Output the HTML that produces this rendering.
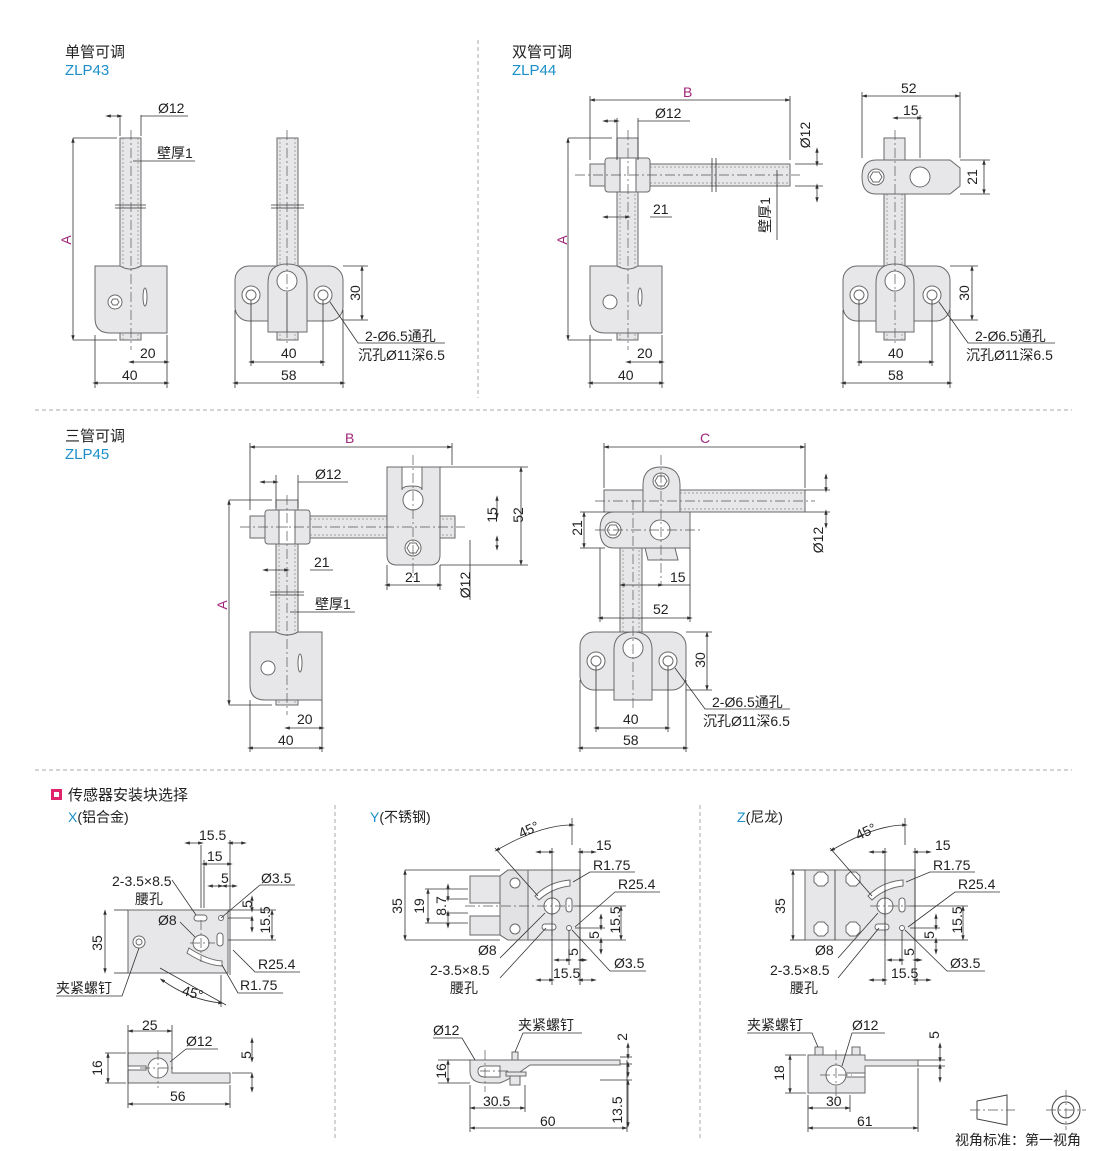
<!DOCTYPE html>
<html><head><meta charset="utf-8"><style>
body{margin:0;background:#fff}
svg{display:block;font-family:"Liberation Sans","Noto Sans CJK SC",sans-serif}
.p{fill:#e7e7e9;stroke:#6a6a6a;stroke-width:1}
.w{fill:#fff;stroke:#6a6a6a;stroke-width:1}
.d{stroke:#333;stroke-width:.8;fill:none}
.dm{stroke:#333;stroke-width:.8;fill:none;marker-start:url(#a);marker-end:url(#a)}
.c{stroke:#555;stroke-width:.7;stroke-dasharray:10 3 2 3;fill:none}
.h{stroke:#888;stroke-width:.7;stroke-dasharray:2 2;fill:none}
.s{stroke:#aaa;stroke-width:1;stroke-dasharray:4 3}
text{font-size:14px;fill:#222}
.r{text-anchor:middle}
.t{font-size:15px}
.b{fill:#1a8fc9;font-size:15px}
.m{fill:#a0267a}
</style></head><body>
<svg width="1110" height="1151" viewBox="0 0 1110 1151">
<defs><marker id="a" viewBox="0 0 10 10" refX="5" refY="5" markerWidth="7" markerHeight="7" orient="auto-start-reverse"><path d="M0,2 L10,5 L0,8 z" fill="#333"/></marker></defs>

<line class="s" x1="478" y1="40" x2="478" y2="398"/>
<line class="s" x1="35" y1="410" x2="1072" y2="410"/>
<line class="s" x1="35" y1="770" x2="1072" y2="770"/>
<line class="s" x1="335" y1="805" x2="335" y2="1140"/>
<line class="s" x1="700" y1="805" x2="700" y2="1140"/>

<text class="t" x="65" y="57">单管可调</text><text class="b" x="65" y="75">ZLP43</text>
<text class="t" x="512" y="57">双管可调</text><text class="b" x="512" y="75">ZLP44</text>
<text class="t" x="65" y="441">三管可调</text><text class="b" x="65" y="459">ZLP45</text>
<rect x="51" y="789" width="11" height="11" fill="#e0246b"/><rect x="54" y="792" width="5" height="5" fill="#fff"/>
<text class="t" x="68" y="800">传感器安装块选择</text>
<text x="68" y="822"><tspan fill="#1a8fc9">X</tspan>(铝合金)</text>
<text x="370" y="822"><tspan fill="#1a8fc9">Y</tspan>(不锈钢)</text>
<text x="737" y="822"><tspan fill="#1a8fc9">Z</tspan>(尼龙)</text>

<!-- ZLP43 left -->
<rect class="p" x="120" y="138" width="21" height="202"/>
<line class="h" x1="123" y1="138" x2="123" y2="340"/><line class="h" x1="138" y1="138" x2="138" y2="340"/>
<line class="d" x1="115" y1="205" x2="146" y2="205"/><line class="d" x1="115" y1="208" x2="146" y2="208"/>
<path class="p" d="M95,266 H120 Q130,272 141,266 H167 V333 H110 Q95,333 95,318 Z"/>
<circle class="w" cx="115" cy="302" r="7"/><path d="M111,302 l2,-3 h4 l2,3 l-2,3 h-4z" class="w"/>
<ellipse class="w" cx="145" cy="297" rx="2" ry="9"/>
<line class="c" x1="131" y1="130" x2="131" y2="350"/>
<line class="d" x1="73" y1="138" x2="117" y2="138"/><line class="d" x1="73" y1="340" x2="117" y2="340"/>
<line class="dm" x1="73" y1="140" x2="73" y2="338"/>
<text class="m r" x="71" y="240" transform="rotate(-90 71 240)">A</text>
<line class="d" x1="120" y1="115" x2="120" y2="136"/><line class="d" x1="141" y1="115" x2="141" y2="136"/>
<line class="dm" x1="108" y1="116" x2="120" y2="116"/><line class="d" x1="141" y1="116" x2="188" y2="116"/>
<text x="158" y="113">Ø12</text>
<line class="d" x1="133" y1="161" x2="195" y2="161"/><text x="157" y="158">壁厚1</text>
<line class="d" x1="95" y1="335" x2="95" y2="388"/><line class="d" x1="167" y1="335" x2="167" y2="388"/>
<line class="dm" x1="131" y1="362" x2="167" y2="362"/><text x="140" y="358">20</text>
<line class="dm" x1="95" y1="383" x2="167" y2="383"/><text x="122" y="380">40</text>

<!-- ZLP43 front -->
<rect class="p" x="277" y="138" width="21" height="202"/>
<line class="h" x1="280" y1="138" x2="280" y2="340"/><line class="h" x1="295" y1="138" x2="295" y2="340"/>
<line class="d" x1="271" y1="205" x2="304" y2="205"/><line class="d" x1="271" y1="208" x2="304" y2="208"/>
<rect class="p" x="235" y="266" width="108" height="55" rx="14"/>
<path class="p" d="M268,332 V283 Q268,264 287,264 Q307,264 307,283 V332 Z"/>
<circle class="w" cx="287" cy="281" r="10"/><line class="d" x1="287" y1="292" x2="287" y2="332"/>
<circle class="w" cx="251" cy="295" r="9"/><circle class="w" cx="251" cy="295" r="5"/>
<circle class="w" cx="323" cy="295" r="9"/><circle class="w" cx="323" cy="295" r="5"/>
<line class="c" x1="287" y1="130" x2="287" y2="345"/>
<line class="d" x1="343" y1="266" x2="368" y2="266"/><line class="d" x1="343" y1="320" x2="368" y2="320"/>
<line class="dm" x1="362" y1="268" x2="362" y2="318"/><text class="r" x="360" y="293" transform="rotate(-90 360 293)">30</text>
<line class="d" x1="251" y1="300" x2="251" y2="366"/><line class="d" x1="323" y1="300" x2="323" y2="366"/>
<line class="dm" x1="251" y1="362" x2="323" y2="362"/><text x="281" y="358">40</text>
<line class="d" x1="235" y1="310" x2="235" y2="388"/><line class="d" x1="343" y1="310" x2="343" y2="388"/>
<line class="dm" x1="235" y1="383" x2="343" y2="383"/><text x="281" y="380">58</text>
<path class="d" d="M330,302 L358,343 H445"/>
<text x="365" y="341">2-Ø6.5通孔</text><text x="358" y="360">沉孔Ø11深6.5</text>

<!-- ZLP44 left -->
<rect class="p" x="617" y="138" width="21" height="202"/>
<line class="h" x1="620" y1="190" x2="620" y2="340"/><line class="h" x1="635" y1="190" x2="635" y2="340"/>
<rect class="p" x="590" y="164" width="200" height="22"/>
<line class="h" x1="650" y1="167" x2="790" y2="167"/><line class="h" x1="650" y1="183" x2="790" y2="183"/>
<line class="d" x1="712" y1="158" x2="712" y2="192"/><line class="d" x1="716" y1="158" x2="716" y2="192"/>
<rect class="p" x="605" y="158" width="45" height="34" rx="3"/>
<rect class="w" x="620" y="158" width="16" height="34"/>
<path class="p" d="M590,266 H617 Q628,272 638,266 H662 V333 H605 Q590,333 590,318 Z"/>
<circle class="w" cx="610" cy="302" r="7"/><ellipse class="w" cx="640" cy="297" rx="2" ry="9"/>
<line class="c" x1="628" y1="130" x2="628" y2="350"/><line class="c" x1="575" y1="175" x2="800" y2="175"/>
<line class="d" x1="590" y1="96" x2="590" y2="160"/><line class="d" x1="790" y1="96" x2="790" y2="160"/>
<line class="dm" x1="592" y1="100" x2="788" y2="100"/><text class="m" x="683" y="97">B</text>
<line class="d" x1="617" y1="118" x2="617" y2="160"/><line class="d" x1="638" y1="118" x2="638" y2="160"/>
<line class="dm" x1="605" y1="121" x2="617" y2="121"/><line class="d" x1="638" y1="121" x2="690" y2="121"/><text x="655" y="118">Ø12</text>
<line class="d" x1="795" y1="164" x2="823" y2="164"/><line class="d" x1="795" y1="186" x2="823" y2="186"/>
<line class="dm" x1="817" y1="150" x2="817" y2="164"/><line class="dm" x1="817" y1="200" x2="817" y2="186"/>
<text class="r" x="810" y="135" transform="rotate(-90 810 135)">Ø12</text>
<line class="d" x1="777" y1="170" x2="777" y2="240"/><text class="r" x="770" y="215" transform="rotate(-90 770 215)">壁厚1</text>
<line class="d" x1="568" y1="138" x2="612" y2="138"/><line class="d" x1="568" y1="340" x2="612" y2="340"/>
<line class="dm" x1="568" y1="140" x2="568" y2="338"/><text class="m r" x="567" y="240" transform="rotate(-90 567 240)">A</text>
<line class="dm" x1="605" y1="217" x2="628" y2="217"/><line class="d" x1="650" y1="217" x2="672" y2="217"/><text x="653" y="214">21</text>
<line class="d" x1="590" y1="335" x2="590" y2="388"/><line class="d" x1="662" y1="335" x2="662" y2="388"/>
<line class="dm" x1="628" y1="362" x2="662" y2="362"/><text x="637" y="358">20</text>
<line class="dm" x1="590" y1="383" x2="662" y2="383"/><text x="618" y="380">40</text>

<!-- ZLP44 right -->
<rect class="p" x="884" y="138" width="21" height="202"/>
<line class="h" x1="887" y1="190" x2="887" y2="340"/><line class="h" x1="902" y1="190" x2="902" y2="340"/>
<path class="p" d="M876,160 H950 L960,168 V186 L950,194 H876 Q862,194 862,177 Q862,160 876,160 Z"/>
<circle class="w" cx="876" cy="177" r="8"/><path class="w" d="M870,177 l3,-5 h6 l3,5 l-3,5 h-6z"/>
<circle class="w" cx="920" cy="177" r="10"/>
<rect class="p" x="843" y="266" width="107" height="55" rx="14"/>
<path class="p" d="M876,332 V283 Q876,264 895,264 Q914,264 914,283 V332 Z"/>
<circle class="w" cx="895" cy="281" r="10"/>
<circle class="w" cx="859" cy="295" r="9"/><circle class="w" cx="859" cy="295" r="5"/>
<circle class="w" cx="932" cy="295" r="9"/><circle class="w" cx="932" cy="295" r="5"/>
<line class="c" x1="895" y1="130" x2="895" y2="345"/>
<line class="d" x1="862" y1="92" x2="862" y2="158"/><line class="d" x1="960" y1="92" x2="960" y2="158"/>
<line class="dm" x1="864" y1="96" x2="958" y2="96"/><text x="901" y="93">52</text>
<line class="d" x1="920" y1="115" x2="920" y2="158"/>
<line class="dm" x1="895" y1="118" x2="920" y2="118"/><text x="903" y="115">15</text>
<line class="d" x1="960" y1="160" x2="990" y2="160"/><line class="d" x1="960" y1="194" x2="990" y2="194"/>
<line class="dm" x1="984" y1="162" x2="984" y2="192"/><text class="r" x="977" y="177" transform="rotate(-90 977 177)">21</text>
<line class="d" x1="950" y1="266" x2="978" y2="266"/><line class="d" x1="950" y1="320" x2="978" y2="320"/>
<line class="dm" x1="972" y1="268" x2="972" y2="318"/><text class="r" x="969" y="293" transform="rotate(-90 969 293)">30</text>
<line class="d" x1="859" y1="300" x2="859" y2="366"/><line class="d" x1="932" y1="300" x2="932" y2="366"/>
<line class="dm" x1="859" y1="362" x2="932" y2="362"/><text x="888" y="358">40</text>
<line class="d" x1="843" y1="310" x2="843" y2="388"/><line class="d" x1="950" y1="310" x2="950" y2="388"/>
<line class="dm" x1="843" y1="383" x2="950" y2="383"/><text x="888" y="380">58</text>
<path class="d" d="M939,302 L968,343 H1055"/>
<text x="975" y="341">2-Ø6.5通孔</text><text x="966" y="360">沉孔Ø11深6.5</text>

<!-- ZLP45 left -->
<rect class="p" x="276" y="500" width="22" height="205"/>
<line class="h" x1="279" y1="545" x2="279" y2="705"/><line class="h" x1="295" y1="545" x2="295" y2="705"/>
<line class="d" x1="270" y1="592" x2="304" y2="592"/><line class="d" x1="270" y1="595" x2="304" y2="595"/>
<rect class="p" x="250" y="516" width="205" height="22"/>
<line class="h" x1="310" y1="519" x2="455" y2="519"/><line class="h" x1="310" y1="535" x2="455" y2="535"/>
<rect class="p" x="265" y="510" width="45" height="34" rx="3"/><rect class="w" x="279" y="510" width="16" height="34"/>
<path class="p" d="M387,467 H440 V555 Q440,565 430,565 H397 Q387,565 387,555 Z"/>
<path class="w" d="M402,467 V490 Q402,486 412,486 Q422,486 422,490 V467 Z"/>
<circle class="w" cx="413" cy="500" r="10"/>
<circle class="w" cx="413" cy="548" r="8"/><path class="w" d="M407,548 l3,-5 h6 l3,5 l-3,5 h-6z"/>
<path class="p" d="M250,632 H276 Q287,638 298,632 H322 V700 H265 Q250,700 250,685 Z"/>
<circle class="w" cx="268" cy="668" r="7"/><ellipse class="w" cx="300" cy="663" rx="2" ry="9"/>
<line class="c" x1="287" y1="495" x2="287" y2="715"/><line class="c" x1="240" y1="527" x2="465" y2="527"/>
<line class="c" x1="413" y1="455" x2="413" y2="580"/>
<line class="d" x1="250" y1="443" x2="250" y2="510"/><line class="d" x1="452" y1="443" x2="452" y2="465"/>
<line class="dm" x1="252" y1="447" x2="450" y2="447"/><text class="m" x="345" y="443">B</text>
<line class="d" x1="276" y1="475" x2="276" y2="508"/><line class="d" x1="298" y1="475" x2="298" y2="508"/>
<line class="dm" x1="262" y1="482" x2="276" y2="482"/><line class="d" x1="298" y1="482" x2="348" y2="482"/><text x="315" y="479">Ø12</text>
<line class="d" x1="440" y1="467" x2="528" y2="467"/><line class="d" x1="440" y1="565" x2="528" y2="565"/>
<line class="dm" x1="521" y1="469" x2="521" y2="563"/><text class="r" x="523" y="515" transform="rotate(-90 523 515)">52</text>
<line class="dm" x1="497" y1="498" x2="497" y2="516"/><line class="dm" x1="497" y1="548" x2="497" y2="538"/>
<text class="r" x="497" y="515" transform="rotate(-90 497 515)">15</text>
<line class="dm" x1="265" y1="570" x2="287" y2="570"/><line class="d" x1="310" y1="570" x2="333" y2="570"/><text x="314" y="567">21</text>
<line class="dm" x1="387" y1="585" x2="440" y2="585"/><text x="405" y="582">21</text>
<line class="d" x1="387" y1="565" x2="387" y2="590"/><line class="d" x1="440" y1="565" x2="440" y2="590"/>
<line class="d" x1="470" y1="540" x2="470" y2="600"/><text class="r" x="470" y="585" transform="rotate(-90 470 585)">Ø12</text>
<line class="d" x1="290" y1="612" x2="355" y2="612"/><text x="315" y="609">壁厚1</text>
<line class="d" x1="229" y1="500" x2="272" y2="500"/><line class="d" x1="229" y1="705" x2="272" y2="705"/>
<line class="dm" x1="229" y1="502" x2="229" y2="703"/><text class="m r" x="227" y="605" transform="rotate(-90 227 605)">A</text>
<line class="d" x1="250" y1="700" x2="250" y2="752"/><line class="d" x1="322" y1="700" x2="322" y2="752"/>
<line class="dm" x1="287" y1="728" x2="322" y2="728"/><text x="297" y="724">20</text>
<line class="dm" x1="250" y1="748" x2="322" y2="748"/><text x="278" y="745">40</text>

<!-- ZLP45 right -->
<rect class="p" x="620" y="512" width="22" height="180"/>
<line class="h" x1="623" y1="550" x2="623" y2="690"/><line class="h" x1="639" y1="550" x2="639" y2="690"/>
<rect class="p" x="604" y="490" width="201" height="22"/>
<line class="h" x1="680" y1="493" x2="805" y2="493"/><line class="h" x1="680" y1="509" x2="805" y2="509"/>
<path class="p" d="M643,515 V485 Q643,467 661,467 Q680,467 680,485 V515 Z"/>
<circle class="w" cx="661" cy="481" r="8"/><path class="w" d="M655,481 l3,-5 h6 l3,5 l-3,5 h-6z"/>
<path class="p" d="M645,548 H675 L678,560 H648 Z"/>
<path class="p" d="M614,512 H690 V548 H614 Q600,548 600,530 Q600,512 614,512 Z"/>
<circle class="w" cx="613" cy="530" r="8"/><path class="w" d="M607,530 l3,-5 h6 l3,5 l-3,5 h-6z"/>
<circle class="w" cx="660" cy="530" r="10"/>
<rect class="p" x="580" y="632" width="106" height="58" rx="14"/>
<path class="p" d="M614,700 V650 Q614,632 633,632 Q652,632 652,650 V700 Z"/>
<circle class="w" cx="633" cy="648" r="10"/>
<circle class="w" cx="596" cy="661" r="9"/><circle class="w" cx="596" cy="661" r="5"/>
<circle class="w" cx="668" cy="661" r="9"/><circle class="w" cx="668" cy="661" r="5"/>
<line class="c" x1="633" y1="500" x2="633" y2="710"/><line class="c" x1="595" y1="501" x2="815" y2="501"/>
<line class="c" x1="661" y1="455" x2="661" y2="585"/><line class="c" x1="595" y1="530" x2="700" y2="530"/>
<line class="d" x1="604" y1="443" x2="604" y2="488"/><line class="d" x1="805" y1="443" x2="805" y2="488"/>
<line class="dm" x1="606" y1="447" x2="803" y2="447"/><text class="m" x="700" y="443">C</text>
<line class="d" x1="805" y1="490" x2="830" y2="490"/><line class="d" x1="805" y1="512" x2="830" y2="512"/>
<line class="dm" x1="826" y1="476" x2="826" y2="490"/><line class="dm" x1="826" y1="526" x2="826" y2="512"/>
<text class="r" x="823" y="540" transform="rotate(-90 823 540)">Ø12</text>
<line class="d" x1="580" y1="512" x2="605" y2="512"/><line class="d" x1="580" y1="548" x2="605" y2="548"/>
<line class="dm" x1="584" y1="514" x2="584" y2="546"/><text class="r" x="582" y="528" transform="rotate(-90 582 528)">21</text>
<line class="dm" x1="622" y1="585" x2="661" y2="585"/><line class="d" x1="661" y1="585" x2="690" y2="585"/><text x="670" y="582">15</text>
<line class="d" x1="600" y1="548" x2="600" y2="622"/><line class="d" x1="690" y1="548" x2="690" y2="622"/>
<line class="dm" x1="600" y1="618" x2="690" y2="618"/><text x="653" y="614">52</text>
<line class="d" x1="686" y1="632" x2="712" y2="632"/><line class="d" x1="686" y1="690" x2="712" y2="690"/>
<line class="dm" x1="707" y1="634" x2="707" y2="688"/><text class="r" x="705" y="660" transform="rotate(-90 705 660)">30</text>
<line class="d" x1="596" y1="666" x2="596" y2="732"/><line class="d" x1="668" y1="666" x2="668" y2="732"/>
<line class="dm" x1="596" y1="728" x2="668" y2="728"/><text x="623" y="724">40</text>
<line class="d" x1="580" y1="680" x2="580" y2="752"/><line class="d" x1="686" y1="680" x2="686" y2="752"/>
<line class="dm" x1="580" y1="748" x2="686" y2="748"/><text x="623" y="745">58</text>
<path class="d" d="M675,668 L705,709 H790"/>
<text x="712" y="707">2-Ø6.5通孔</text><text x="703" y="726">沉孔Ø11深6.5</text>

<!-- X -->
<rect class="p" x="128" y="910" width="100" height="63"/>
<circle class="w" cx="139" cy="942" r="6"/><circle class="w" cx="139" cy="942" r="3"/>
<circle class="w" cx="201" cy="943" r="8"/>
<rect class="w" x="194" y="915" width="13" height="6" rx="3"/><rect class="w" x="217" y="933" width="6" height="13" rx="3"/>
<circle class="w" cx="221" cy="918" r="2.5"/>
<path class="w" d="M187,953 Q205,965 222,966 L222,961 Q207,960 189,948 Z"/>
<line class="c" x1="201" y1="920" x2="201" y2="962"/><line class="c" x1="190" y1="943" x2="215" y2="943"/>
<line class="d" x1="114" y1="910" x2="128" y2="910"/><line class="d" x1="114" y1="973" x2="128" y2="973"/>
<line class="dm" x1="105" y1="912" x2="105" y2="971"/><text class="r" x="102" y="943" transform="rotate(-90 102 943)">35</text>
<line class="d" x1="201" y1="845" x2="201" y2="908"/><line class="d" x1="230" y1="840" x2="230" y2="975"/><line class="d" x1="204" y1="860" x2="204" y2="908"/>
<line class="dm" x1="187" y1="843" x2="201" y2="843"/><line class="dm" x1="244" y1="843" x2="230" y2="843"/><text x="199" y="840">15.5</text>
<line class="dm" x1="204" y1="864" x2="230" y2="864"/><text x="207" y="861">15</text>
<line class="dm" x1="210" y1="886" x2="221" y2="886"/><line class="dm" x1="235" y1="886" x2="224" y2="886"/><text x="221" y="883">5</text>
<line class="d" x1="228" y1="910" x2="276" y2="910"/><line class="d" x1="228" y1="918" x2="252" y2="918"/><line class="d" x1="228" y1="940" x2="276" y2="940"/>
<line class="dm" x1="252" y1="898" x2="252" y2="910"/><line class="dm" x1="252" y1="930" x2="252" y2="918"/>
<text class="r" x="252" y="904" transform="rotate(-90 252 904)">5</text>
<line class="dm" x1="272" y1="912" x2="272" y2="938"/><text class="r" x="270" y="920" transform="rotate(-90 270 920)">15.5</text>
<text x="112" y="886">2-3.5×8.5</text><text x="135" y="904">腰孔</text>
<path class="d" d="M172,880 L196,915"/>
<text x="158" y="925">Ø8</text><path class="d" d="M180,922 L195,937"/>
<text x="261" y="883">Ø3.5</text><path class="d" d="M295,885 L260,885 L221,918"/>
<text x="258" y="969">R25.4</text><path class="d" d="M300,972 H255 L233,950"/>
<text x="240" y="990">R1.75</text><path class="d" d="M283,993 H238 L222,965"/>
<text x="56" y="993">夹紧螺钉</text><path class="d" d="M56,996 H122 L139,948"/>
<line class="d" x1="160" y1="968" x2="226" y2="1005"/><line class="d" x1="221" y1="975" x2="221" y2="1007"/>
<path class="d" d="M162,980 Q190,1000 221,1003" marker-start="url(#a)" marker-end="url(#a)"/>
<text x="182" y="997" transform="rotate(15 190 993)">45°</text>
<path class="p" d="M128,1053 H172 V1073 H230 V1083 H128 V1070 H146 V1066 H128 Z"/>
<circle class="w" cx="158" cy="1068" r="10"/>
<line class="c" x1="158" y1="1050" x2="158" y2="1088"/><line class="c" x1="140" y1="1068" x2="175" y2="1068"/>
<line class="d" x1="128" y1="1025" x2="128" y2="1108"/><line class="d" x1="172" y1="1025" x2="172" y2="1052"/><line class="d" x1="230" y1="1085" x2="230" y2="1108"/>
<line class="dm" x1="130" y1="1031" x2="170" y2="1031"/><text x="142" y="1030">25</text>
<line class="dm" x1="130" y1="1104" x2="228" y2="1104"/><text x="170" y="1101">56</text>
<line class="d" x1="105" y1="1053" x2="126" y2="1053"/><line class="d" x1="105" y1="1083" x2="126" y2="1083"/>
<line class="dm" x1="108" y1="1055" x2="108" y2="1081"/><text class="r" x="102" y="1068" transform="rotate(-90 102 1068)">16</text>
<text x="186" y="1046">Ø12</text><path class="d" d="M218,1049 H186 L170,1062"/>
<line class="d" x1="232" y1="1073" x2="252" y2="1073"/>
<line class="dm" x1="252" y1="1040" x2="252" y2="1060"/><line class="dm" x1="252" y1="1090" x2="252" y2="1075"/>
<text class="r" x="251" y="1055" transform="rotate(-90 251 1055)">5</text>

<!-- Y -->
<path class="p" d="M470,876 H500 L508,870 H580 V940 H508 L500,935 H470 V916 H510 Q516,910 510,903 H470 Z"/>
<path class="p" d="M500,876 L508,870 H528 V940 H508 L500,935 Z" style="fill:#e2e2e4"/>
<circle class="w" cx="515" cy="883" r="5"/><circle class="w" cx="515" cy="929" r="5"/>
<circle class="w" cx="552" cy="906" r="8"/>
<rect class="w" x="566" y="898" width="6" height="14" rx="3"/><rect class="w" x="542" y="924" width="14" height="6" rx="3"/>
<circle class="w" cx="569" cy="928" r="2.5"/>
<path class="w" d="M535,896 Q548,882 570,880 L570,886 Q552,888 539,900 Z"/>
<line class="c" x1="465" y1="906" x2="575" y2="906"/><line class="c" x1="552" y1="890" x2="552" y2="945"/>
<line class="d" x1="405" y1="870" x2="500" y2="870"/><line class="d" x1="405" y1="940" x2="500" y2="940"/>
<line class="dm" x1="405" y1="872" x2="405" y2="938"/><text class="r" x="402" y="906" transform="rotate(-90 402 906)">35</text>
<line class="d" x1="425" y1="889" x2="468" y2="889"/><line class="d" x1="425" y1="923" x2="468" y2="923"/>
<line class="dm" x1="428" y1="891" x2="428" y2="921"/><text class="r" x="424" y="906" transform="rotate(-90 424 906)">19</text>
<line class="d" x1="446" y1="899" x2="468" y2="899"/><line class="d" x1="446" y1="913" x2="468" y2="913"/>
<line class="dm" x1="448" y1="886" x2="448" y2="899"/><line class="dm" x1="448" y1="926" x2="448" y2="913"/>
<text class="r" x="446" y="906" transform="rotate(-90 446 906)">8.7</text>
<line class="d" x1="552" y1="848" x2="552" y2="985"/><line class="d" x1="580" y1="848" x2="580" y2="985"/><line class="d" x1="569" y1="930" x2="569" y2="965"/>
<line class="dm" x1="538" y1="852" x2="552" y2="852"/><line class="dm" x1="594" y1="852" x2="580" y2="852"/><text x="596" y="850">15</text>
<line class="dm" x1="538" y1="980" x2="552" y2="980"/><line class="dm" x1="594" y1="980" x2="580" y2="980"/><text x="553" y="978">15.5</text>
<line class="dm" x1="556" y1="960" x2="569" y2="960"/><line class="dm" x1="585" y1="960" x2="580" y2="960"/><text class="r" x="578" y="952" transform="rotate(-90 578 952)">5</text>
<line class="d" x1="575" y1="906" x2="626" y2="906"/><line class="d" x1="575" y1="928" x2="605" y2="928"/><line class="d" x1="580" y1="940" x2="626" y2="940"/>
<line class="dm" x1="601" y1="916" x2="601" y2="928"/><line class="dm" x1="601" y1="952" x2="601" y2="940"/>
<text class="r" x="599" y="935" transform="rotate(-90 599 935)">5</text>
<line class="dm" x1="621" y1="908" x2="621" y2="938"/><text class="r" x="620" y="920" transform="rotate(-90 620 920)">15.5</text>
<text x="593" y="870">R1.75</text><path class="d" d="M635,872 H590 L573,882"/>
<text x="618" y="889">R25.4</text><path class="d" d="M660,892 H615 L575,927"/>
<text x="614" y="968">Ø3.5</text><path class="d" d="M646,971 H610 L572,930"/>
<text x="478" y="955">Ø8</text><path class="d" d="M500,958 L545,913"/>
<text x="430" y="975">2-3.5×8.5</text><text x="450" y="993">腰孔</text>
<path class="d" d="M500,978 L546,928"/>
<path class="d" d="M497,850 Q540,825 572,825" marker-start="url(#a)" marker-end="url(#a)"/>
<line class="d" x1="495" y1="848" x2="538" y2="896"/><line class="d" x1="572" y1="818" x2="572" y2="845"/>
<text x="518" y="836" transform="rotate(-25 525 830)">45°</text>
<path class="p" d="M470,1060 H620 V1065 H530 L520,1072 Q510,1079 500,1083 H485 Q470,1083 470,1071 Z" />
<path class="w" d="M478,1071 Q478,1066 485,1066 H500 V1077 H485 Q478,1077 478,1071 Z"/>
<rect class="p" x="512" y="1052" width="6" height="8"/><rect class="p" x="510" y="1075" width="10" height="10"/>
<rect class="p" x="506" y="1072" width="20" height="4"/>
<line class="c" x1="480" y1="1071" x2="510" y2="1071"/><line class="c" x1="485" y1="1050" x2="485" y2="1092"/>
<line class="d" x1="438" y1="1060" x2="470" y2="1060"/><line class="d" x1="438" y1="1083" x2="470" y2="1083"/>
<line class="dm" x1="448" y1="1062" x2="448" y2="1081"/><text class="r" x="446" y="1071" transform="rotate(-90 446 1071)">16</text>
<line class="d" x1="470" y1="1085" x2="470" y2="1132"/><line class="d" x1="525" y1="1085" x2="525" y2="1112"/><line class="d" x1="627" y1="1060" x2="627" y2="1132"/>
<line class="dm" x1="472" y1="1108" x2="523" y2="1108"/><text x="483" y="1106">30.5</text>
<line class="dm" x1="472" y1="1128" x2="625" y2="1128"/><text x="540" y="1126">60</text>
<line class="d" x1="620" y1="1057" x2="632" y2="1057"/><line class="d" x1="620" y1="1064" x2="632" y2="1064"/><line class="d" x1="600" y1="1080" x2="632" y2="1080"/>
<line class="dm" x1="628" y1="1045" x2="628" y2="1057"/><line class="dm" x1="628" y1="1075" x2="628" y2="1064"/>
<text class="r" x="627" y="1037" transform="rotate(-90 627 1037)">2</text>
<line class="dm" x1="628" y1="1125" x2="628" y2="1082"/><text class="r" x="622" y="1110" transform="rotate(-90 622 1110)">13.5</text>
<text x="433" y="1035">Ø12</text><path class="d" d="M433,1038 H462 L475,1060"/>
<text x="518" y="1030">夹紧螺钉</text><path class="d" d="M582,1033 H523 L515,1052"/>

<!-- Z -->
<rect class="p" x="805" y="870" width="110" height="70"/>
<line class="d" x1="835" y1="870" x2="835" y2="940"/>
<path class="w" d="M814,876 l4,-4 h6 l4,4 v6 l-4,4 h-6 l-4,-4z"/><path class="w" d="M846,876 l4,-4 h6 l4,4 v6 l-4,4 h-6 l-4,-4z"/>
<path class="w" d="M814,926 l4,-4 h6 l4,4 v6 l-4,4 h-6 l-4,-4z"/><path class="w" d="M846,926 l4,-4 h6 l4,4 v6 l-4,4 h-6 l-4,-4z"/>
<circle class="w" cx="885" cy="906" r="8"/>
<rect class="w" x="899" y="898" width="6" height="14" rx="3"/><rect class="w" x="875" y="924" width="14" height="6" rx="3"/>
<circle class="w" cx="902" cy="928" r="2.5"/>
<path class="w" d="M868,896 Q881,882 903,880 L903,886 Q885,888 872,900 Z"/>
<line class="c" x1="870" y1="906" x2="910" y2="906"/><line class="c" x1="885" y1="890" x2="885" y2="945"/>
<line class="d" x1="790" y1="870" x2="805" y2="870"/><line class="d" x1="790" y1="940" x2="805" y2="940"/>
<line class="dm" x1="793" y1="872" x2="793" y2="938"/><text class="r" x="785" y="906" transform="rotate(-90 785 906)">35</text>
<line class="d" x1="885" y1="848" x2="885" y2="985"/><line class="d" x1="915" y1="848" x2="915" y2="985"/><line class="d" x1="902" y1="930" x2="902" y2="965"/>
<line class="dm" x1="871" y1="852" x2="885" y2="852"/><line class="dm" x1="929" y1="852" x2="915" y2="852"/><text x="935" y="850">15</text>
<line class="dm" x1="871" y1="980" x2="885" y2="980"/><line class="dm" x1="929" y1="980" x2="915" y2="980"/><text x="891" y="978">15.5</text>
<line class="dm" x1="889" y1="960" x2="902" y2="960"/><line class="dm" x1="920" y1="960" x2="915" y2="960"/><text class="r" x="914" y="952" transform="rotate(-90 914 952)">5</text>
<line class="d" x1="910" y1="906" x2="968" y2="906"/><line class="d" x1="910" y1="928" x2="940" y2="928"/><line class="d" x1="915" y1="940" x2="968" y2="940"/>
<line class="dm" x1="936" y1="916" x2="936" y2="928"/><line class="dm" x1="936" y1="952" x2="936" y2="940"/>
<text class="r" x="934" y="935" transform="rotate(-90 934 935)">5</text>
<line class="dm" x1="963" y1="908" x2="963" y2="938"/><text class="r" x="962" y="920" transform="rotate(-90 962 920)">15.5</text>
<text x="933" y="870">R1.75</text><path class="d" d="M975,872 H930 L906,882"/>
<text x="958" y="889">R25.4</text><path class="d" d="M1000,892 H955 L908,927"/>
<text x="950" y="968">Ø3.5</text><path class="d" d="M985,971 H947 L905,930"/>
<text x="815" y="955">Ø8</text><path class="d" d="M838,958 L878,913"/>
<text x="770" y="975">2-3.5×8.5</text><text x="790" y="993">腰孔</text>
<path class="d" d="M838,978 L879,928"/>
<path class="d" d="M832,850 Q875,825 905,825" marker-start="url(#a)" marker-end="url(#a)"/>
<line class="d" x1="830" y1="848" x2="872" y2="896"/><line class="d" x1="905" y1="818" x2="905" y2="845"/>
<text x="855" y="838" transform="rotate(-25 862 832)">45°</text>
<path class="p" d="M808,1055 H865 V1060 H918 V1066 H865 V1093 H808 Z"/>
<rect class="p" x="815" y="1047" width="8" height="8"/><rect class="p" x="852" y="1047" width="8" height="8"/>
<circle class="w" cx="836" cy="1075" r="10"/><rect class="w" x="846" y="1073" width="19" height="4"/>
<line class="c" x1="836" y1="1050" x2="836" y2="1100"/><line class="c" x1="820" y1="1075" x2="852" y2="1075"/>
<line class="d" x1="785" y1="1055" x2="806" y2="1055"/><line class="d" x1="785" y1="1093" x2="806" y2="1093"/>
<line class="dm" x1="790" y1="1057" x2="790" y2="1091"/><text class="r" x="784" y="1073" transform="rotate(-90 784 1073)">18</text>
<line class="d" x1="808" y1="1095" x2="808" y2="1132"/><line class="d" x1="850" y1="1095" x2="850" y2="1112"/><line class="d" x1="918" y1="1068" x2="918" y2="1132"/>
<line class="dm" x1="810" y1="1108" x2="848" y2="1108"/><text x="826" y="1106">30</text>
<line class="dm" x1="810" y1="1128" x2="916" y2="1128"/><text x="857" y="1126">61</text>
<line class="d" x1="918" y1="1060" x2="945" y2="1060"/><line class="d" x1="918" y1="1066" x2="945" y2="1066"/>
<line class="dm" x1="940" y1="1045" x2="940" y2="1060"/><line class="dm" x1="940" y1="1080" x2="940" y2="1066"/>
<text class="r" x="939" y="1035" transform="rotate(-90 939 1035)">5</text>
<text x="747" y="1030">夹紧螺钉</text><path class="d" d="M747,1033 H812 L818,1047"/>
<text x="852" y="1030">Ø12</text><path class="d" d="M885,1033 H852 L842,1066"/>

<path d="M977,1101 L1007,1095 V1125 L977,1119 Z" fill="none" stroke="#444" stroke-width="1"/>
<line x1="970" y1="1110" x2="1015" y2="1110" class="c"/>
<circle cx="1066" cy="1110" r="14" fill="none" stroke="#444"/><circle cx="1066" cy="1110" r="8" fill="none" stroke="#444"/>
<line x1="1046" y1="1110" x2="1086" y2="1110" class="c"/><line x1="1066" y1="1090" x2="1066" y2="1130" class="c"/>
<text x="955" y="1145">视角标准：第一视角</text>
</svg>
</body></html>
